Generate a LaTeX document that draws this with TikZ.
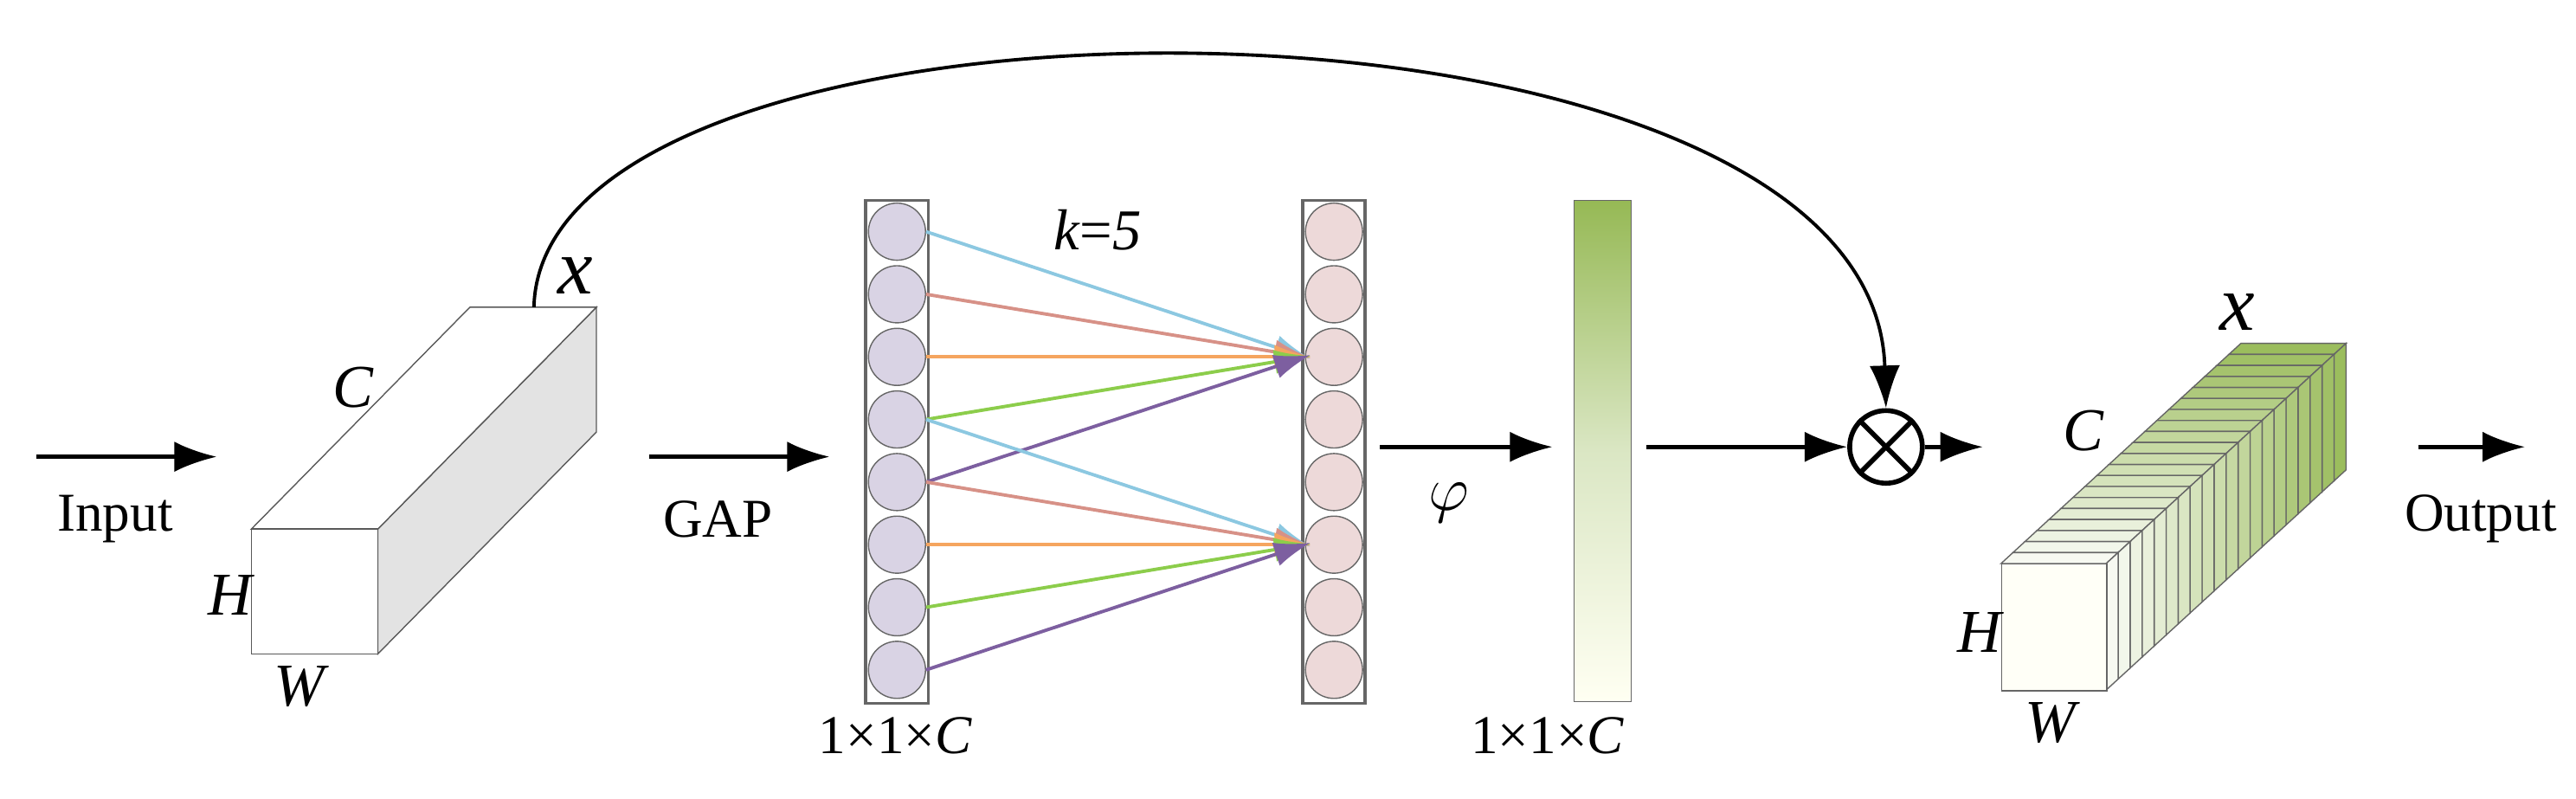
\documentclass[tikz,border=0pt]{standalone}
\usepackage{fontspec}
\setmainfont{Liberation Serif}
\usetikzlibrary{arrows.meta,positioning}
\definecolor{lav}{RGB}{217,211,228}
\definecolor{pnk}{RGB}{237,217,217}
\definecolor{grn}{RGB}{150,185,85}
\definecolor{c1}{RGB}{140,200,225}
\definecolor{c2}{RGB}{215,145,135}
\definecolor{c3}{RGB}{245,165,95}
\definecolor{c4}{RGB}{140,205,75}
\definecolor{c5}{RGB}{125,95,160}
\tikzset{
  arr/.style = {-{Latex[length=14pt,width=10pt]}, line width=1.3pt},
  lbl/.style = {font=\fontsize{18}{20}\selectfont},
  ball/.style = {draw=gray!80!black, circle, minimum size=0.66cm, inner sep=0pt},
  link/.style = {-{Latex[length=12pt,width=8pt]}, line width=1.1pt, shorten >=-2pt}
}
\begin{document}
\begin{tikzpicture}[x=0.019cm, y=-0.019cm]
\useasboundingbox (0,0) rectangle (1568,486);
% input
\coordinate (in0) at (22,278); \coordinate (in1) at (132,278);
\draw[arr] (in0) -- (in1);
\node[lbl] (input) at (70,316) {Input};
% first cuboid
\draw[gray!70!black, fill=gray!22] (230,322) -- (363,187) -- (363,263) -- (230,398) -- cycle;
\draw[gray!70!black, fill=white] (153,322) -- (286,187) -- (363,187) -- (230,322) -- cycle;
\draw[gray!70!black, fill=white] (153,322) rectangle (230,398);
\node[lbl, font=\fontsize{20}{22}\selectfont\itshape] (c) at (215,236) {C};
\node[lbl, font=\fontsize{20}{22}\selectfont\itshape] (h) at (140,362) {H};
\node[lbl, font=\fontsize{20}{22}\selectfont\itshape] (w) at (182,418) {W};
\node[font=\fontsize{26}{28}\selectfont\itshape] (x1) at (350,168) {x};
\coordinate (skip) at (325,187);
% GAP
\coordinate (g0) at (395,278); \coordinate (g1) at (505,278);
\draw[arr] (g0) -- (g1);
\node[lbl] (gap) at (437,316) {GAP};
% columns
\draw[gray!80!black, line width=1pt] (527,122) rectangle (565,428);
\draw[gray!80!black, line width=1pt] (793,122) rectangle (831,428);
\foreach \i in {1,...,8}{
  \node[ball, fill=lav] (l\i) at (546,{141+(\i-1)*38.1}) {};
  \node[ball, fill=pnk] (r\i) at (812,{141+(\i-1)*38.1}) {};
}
\foreach \s/\col in {1/c1,2/c2,3/c3,4/c4,5/c5}{
  \draw[link, \col] (l\s.east) -- (r3.west);
}
\foreach \s/\col in {4/c1,5/c2,6/c3,7/c4,8/c5}{
  \draw[link, \col] (l\s.east) -- (r6.west);
}
\node[lbl, font=\fontsize{19}{21}\selectfont] (k) at (668,140) {\textit{k}=\textit{5}};
\node[lbl] (d1) at (545,448) {1×1×\textit{C}};
% phi
\coordinate (p0) at (840,272); \coordinate (p1) at (945,272);
\draw[arr] (p0) -- (p1);
\node[font=\fontsize{20}{22}\selectfont] (phi) at (882,306) {$\varphi$};
% weight bar
\shade[top color=grn, bottom color=white!95!yellow, middle color=grn!35!white] (958,122) rectangle (993,427);
\draw[gray!80!black] (958,122) rectangle (993,427);
\node[lbl] (d2) at (942,448) {1×1×\textit{C}};
\coordinate (b0) at (1002,272);
% multiply
\node[draw, circle, line width=1.6pt, minimum size=0.84cm, inner sep=0pt] (mul) at (1148,272) {};
\draw[line width=1.6pt] (mul.north west) -- (mul.south east) (mul.north east) -- (mul.south west);
\draw[arr] (b0) -- (mul.west);
\draw[arr, line width=1.1pt] (skip) .. controls (330,-25) and (1140,-25) .. (mul.north);
% output cuboid
\foreach \i in {19,...,0}{
  \pgfmathsetmacro{\ax}{1218+\i*7.3}
  \pgfmathsetmacro{\ay}{343-\i*6.7}
  \pgfmathsetmacro{\bx}{1218+(\i+1)*7.3}
  \pgfmathsetmacro{\by}{343-(\i+1)*6.7}
  \pgfmathtruncatemacro{\m}{8+\i*4.6}
  \draw[black!60, fill=grn!\m!white] (\ax,\ay) -- (\bx,\by) -- (\bx+64,\by) -- (\ax+64,\ay) -- cycle;
  \draw[black!60, fill=grn!\m!white] (\ax+64,\ay) -- (\bx+64,\by) -- (\bx+64,\by+77) -- (\ax+64,\ay+77) -- cycle;
}
\node[draw=black!60, fill=white!97!yellow, minimum width=1.216cm, minimum height=1.463cm, inner sep=0pt, anchor=north west] (front) at (1218,343) {};
\node[lbl, font=\fontsize{20}{22}\selectfont\itshape] (c2) at (1268,262) {C};
\node[lbl, font=\fontsize{20}{22}\selectfont\itshape] (h2) at (1205,385) {H};
\node[lbl, font=\fontsize{20}{22}\selectfont\itshape] (w2) at (1248,440) {W};
\node[font=\fontsize{26}{28}\selectfont\itshape] (x2) at (1362,190) {x};
\coordinate (o1) at (1207,272);
\draw[arr] (mul.east) -- (o1);
\coordinate (q0) at (1472,272); \coordinate (q1) at (1537,272);
\draw[arr] (q0) -- (q1);
\node[lbl] (output) at (1510,316) {Output};
\end{tikzpicture}
\end{document}
